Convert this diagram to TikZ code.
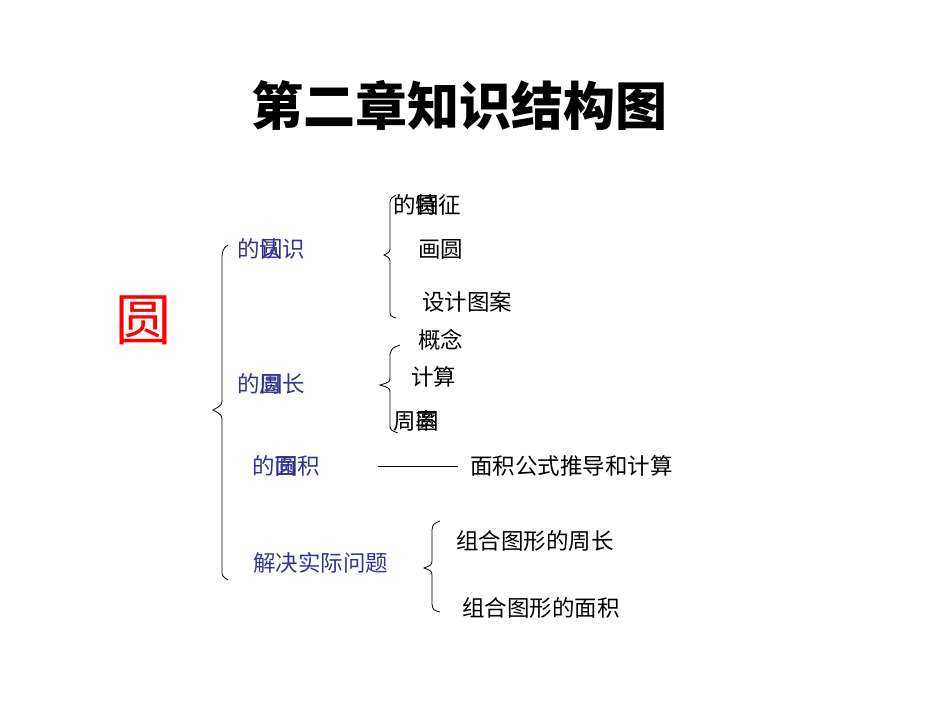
\documentclass[tikz,border=0pt]{standalone}
\usepackage{fontspec}
\newfontfamily\cjk{Noto Sans CJK SC}
\begin{document}
\begin{tikzpicture}[x=1pt,y=-1pt,
  t/.style={anchor=west,inner sep=0pt,font=\cjk\fontsize{22.5}{22.5}\selectfont},
  b/.style={t,text=blue!45!black!80},
  br/.style={line width=0.8pt}]
\useasboundingbox (0,0) rectangle (950,713);
\node[font=\cjk\bfseries\fontsize{52}{52}\selectfont,inner sep=0pt] (title) at (459,105) {第二章知识结构图};
\node[font=\cjk\fontsize{56}{56}\selectfont,text=red,inner sep=0pt] (yuan) at (143,320) {圆};
% level 1
\node[b] (r1) at (237,249) {的认识}; \node[b] (r1o) at (260,249) {圆};
\node[b] (r2) at (237,384) {的周长}; \node[b] (r2o) at (260,384) {圆};
\node[b] (r3) at (252,466) {的面积}; \node[b] (r3o) at (275,466) {圆};
\node[b] (r4) at (253,563) {解决实际问题};
% level 2
\node[t] (a1) at (393,205) {的特征}; \node[t] (a1o) at (416,205) {圆};
\node[t] (a2) at (418,249) {画圆};
\node[t] (a3) at (422,302) {设计图案};
\node[t] (b1) at (418,340) {概念};
\node[t] (b2) at (411,377) {计算};
\node[t] (b3) at (393,421) {周率}; \node[t] (b3o) at (416,421) {圆};
\node[t] (c1) at (470,466) {面积公式推导和计算};
\node[t] (d1) at (456,541) {组合图形的周长};
\node[t] (d2) at (462,608) {组合图形的面积};
\draw[line width=0.8pt] (378,466) -- (c1.west -| 458,466);
% braces
\draw[br] (228,245) .. controls (222,249) and (222,252) .. (222,262) -- (222,398) .. controls (222,405) .. (213,410) .. controls (222,415) .. (222,422) -- (222,570) .. controls (222,576) .. (228,580);
\draw[br] (396,195) .. controls (390,199) .. (390,206) -- (390,246) .. controls (390,252) .. (384,255) .. controls (390,258) .. (390,264) -- (390,310) .. controls (390,316) .. (396,318);
\draw[br] (400,345) .. controls (392,348) .. (390,354) -- (390,376) .. controls (390,382) .. (380,385) .. controls (390,388) .. (390,394) -- (390,424) .. controls (390,430) .. (398,433);
\draw[br] (440,521) .. controls (433,524) .. (432,530) -- (432,559) .. controls (432,565) .. (424,568) .. controls (432,571) .. (432,577) -- (432,604) .. controls (433,610) .. (440,612);
\end{tikzpicture}
\end{document}
